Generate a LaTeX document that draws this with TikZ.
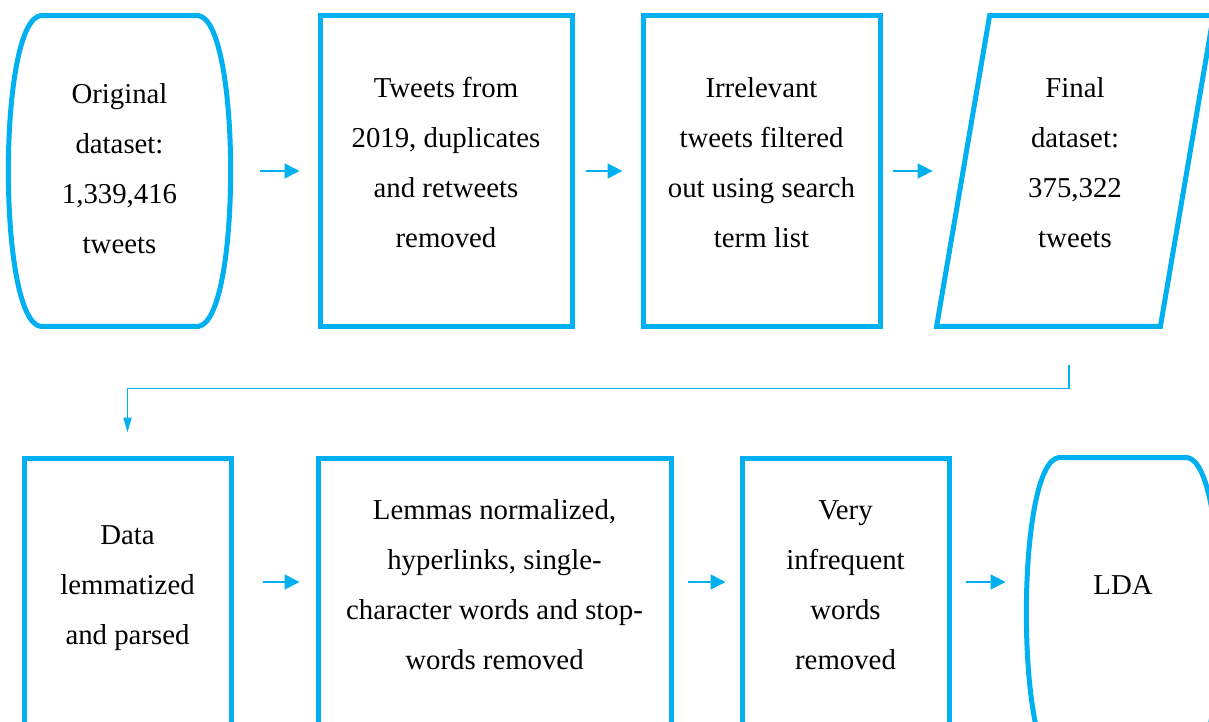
\documentclass[tikz,border=0pt]{standalone}
\usepackage{fontspec}
\setmainfont{Liberation Serif}
\usepackage{tikz}
\usetikzlibrary{math,arrows.meta}
\definecolor{flowblue}{HTML}{00B0F0}
\tikzset{
  box/.style = {draw = flowblue, line width = 2.5pt, inner sep = 0pt,
                minimum height = 155pt},
  shapeonly/.style = {inner sep = 0pt, minimum height = 155pt},
  outline/.style = {draw = flowblue, line width = 2.5pt},
  flow/.style = {draw = flowblue, line width = 0.8pt,
                 -{Triangle[length = 7.5pt, width = 7.5pt]}},
  elbow/.style = {draw = flowblue, line width = 0.9pt,
                  -{Triangle[length = 7.5pt, width = 4pt]}}
}
% multi-line text, lifted inside its shape
\newcommand\lines[2]{\raisebox{#1}[0pt][0pt]{\begin{tabular}{@{}c@{}}#2\end{tabular}}}
% flat top and bottom, bulging sides
\newcommand\termshape[1]{%
  \draw[outline] ([xshift = 16.5pt]#1.north west) -- ([xshift = -16.5pt]#1.north east)
    .. controls ([shift = {(5pt, -3pt)}]#1.north east)
       and ([shift = {(5pt, 3pt)}]#1.south east) .. ([xshift = -16.5pt]#1.south east)
    -- ([xshift = 16.5pt]#1.south west)
    .. controls ([shift = {(-5pt, 3pt)}]#1.south west)
       and ([shift = {(-5pt, -3pt)}]#1.north west) .. cycle;}

\begin{document}
\begin{tikzpicture}[x = 0.5pt, y = -0.5pt,
    font = \fontsize{14.4pt}{25pt}\selectfont]
    \tikzmath{
      \topY = 171;
      \botY = 613;
      \upTop = 0.5;
      \upBot = 10.5;
    }
    \clip (0, 0) rectangle (1209, 722);
    % first row
    \node[shapeonly, minimum width = 111.5pt] (orig) at (119.5, \topY)
    {\lines{-2.5pt}{Original\\dataset:\\1,339,416\\tweets}};
    \node[box, minimum width = 126pt] (tweets) at (446, \topY)
    {\lines{\upTop pt}{Tweets from\\2019, duplicates\\and retweets\\removed}};
    \node[box, minimum width = 118.5pt] (irrel) at (761.5, \topY)
    {\lines{\upTop pt}{Irrelevant\\tweets filtered\\out using search\\term list}};
    \node[shapeonly, minimum width = 138pt] (final) at (1075, \topY)
    {\lines{\upTop pt}{Final\\dataset:\\375,322\\tweets}};
    \termshape{orig}
    \draw[outline] ([xshift = 26.5pt]final.north west) -- (final.north east)
      -- ([xshift = -26.5pt]final.south east) -- (final.south west) -- cycle;
    % second row
    \node[box, minimum width = 103.5pt] (data) at (127.5, \botY)
    {\lines{\upBot pt}{Data\\lemmatized\\and parsed}};
    \node[box, minimum width = 176.5pt] (lemmas) at (494.5, \botY)
    {\lines{\upBot pt}{Lemmas normalized,\\hyperlinks, single-\\character words and stop-\\words removed}};
    \node[box, minimum width = 103.5pt] (infreq) at (845.5, \botY)
    {\lines{\upBot pt}{Very\\infrequent\\words\\removed}};
    \node[shapeonly, minimum width = 97pt] (lda) at (1123, \botY)
    {\lines{\upBot pt}{LDA}};
    \termshape{lda}
    % connectors
    \draw[flow] ([xshift = 14.5pt]orig.east) -- ([xshift = -9pt]tweets.west);
    \draw[flow] ([xshift = 5.5pt]tweets.east) -- ([xshift = -9pt]irrel.west);
    \draw[flow] ([xshift = 5pt]irrel.east) -- ([xshift = -2pt]final.west);
    \draw[elbow] ([shift = {(-3pt, -19.5pt)}]final.south) -- ++(0, 23)
      -| ([yshift = 11.5pt]data.north);
    \draw[flow] ([shift = {(14.5pt, 15.5pt)}]data.east)
      -- ([shift = {(-8pt, 15.5pt)}]lemmas.west);
    \draw[flow] ([shift = {(7pt, 15.5pt)}]lemmas.east)
      -- ([shift = {(-7pt, 15.5pt)}]infreq.west);
    \draw[flow] ([shift = {(7pt, 15.5pt)}]infreq.east)
      -- ([shift = {(-10pt, 15.5pt)}]lda.west);
  \end{tikzpicture}
\end{document}
